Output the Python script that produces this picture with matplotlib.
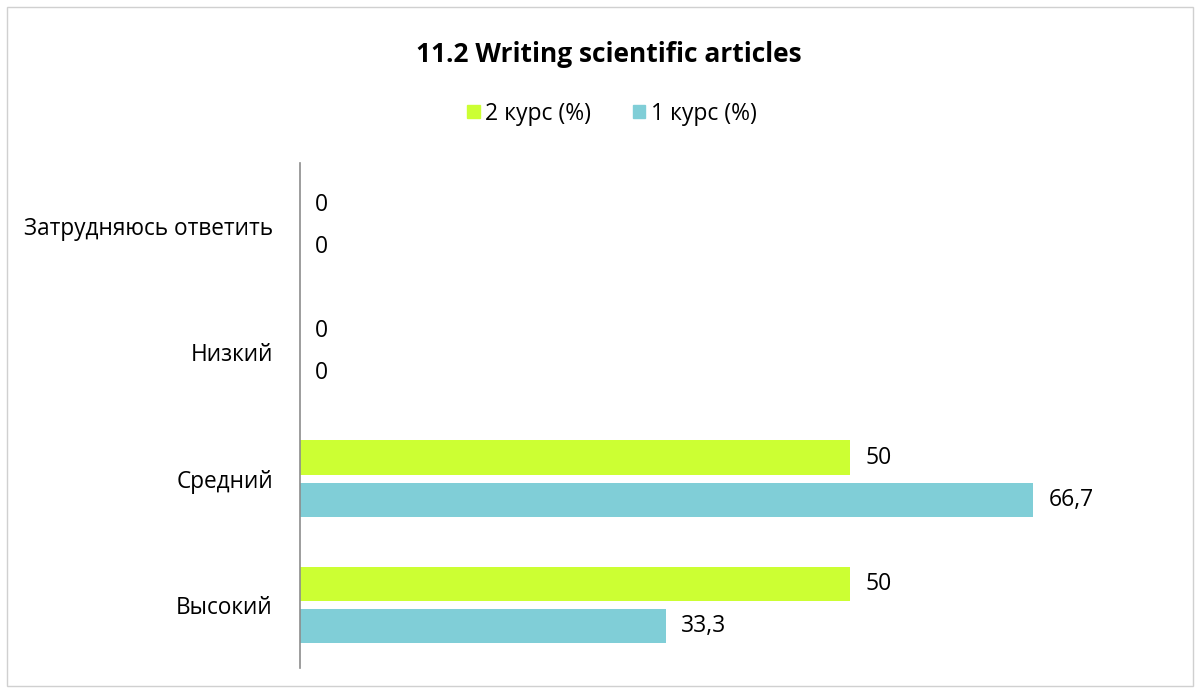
import matplotlib.pyplot as plt
from matplotlib.patches import Rectangle, Patch

plt.rcParams['font.family'] = ['Open Sans', 'DejaVu Sans']

categories = ['Высокий', 'Средний', 'Низкий', 'Затрудняюсь ответить']
course2 = [50, 50, 0, 0]
course1 = [33.3, 66.7, 0, 0]
labels2 = ['50', '50', '0', '0']
labels1 = ['33,3', '66,7', '0', '0']
series_names = ['2 курс (%)', '1 курс (%)']

green = '#CCFF33'
cyan = '#80CED7'

fig = plt.figure(figsize=(12, 6.93), dpi=100)
ax = fig.add_axes([0.25, 0.036, 0.733, 0.729])

pos = list(range(len(categories)))
h = 0.27
off = 0.167
bars2 = ax.barh([p + off for p in pos], course2, height=h, color=green)
bars1 = ax.barh([p - off for p in pos], course1, height=h, color=cyan)

for bars, labels in [(bars2, labels2), (bars1, labels1)]:
    for b, t in zip(bars, labels):
        ax.annotate(t, (b.get_width(), b.get_y() + b.get_height() / 2),
                    xytext=(11, 0), textcoords='offset points',
                    va='center', ha='left', fontsize=16.5, color='#000000')

ax.set_xlim(0, 80)
ax.set_ylim(-0.5, len(categories) - 0.5)
ax.set_yticks(pos)
ax.set_yticklabels(categories, fontsize=16.3)
ax.tick_params(axis='y', length=0, pad=19.5)
ax.set_xticks([])
for s in ['top', 'right', 'bottom']:
    ax.spines[s].set_visible(False)
ax.spines['left'].set_color('#8C8C8C')
ax.spines['left'].set_linewidth(1.2)

fig.text(0.507, 0.922, '11.2 Writing scientific articles', ha='center', va='center',
         fontsize=19, fontweight='bold')

handles = [Patch(color=green), Patch(color=cyan)]
fig.legend(handles, series_names, loc='center', bbox_to_anchor=(0.51, 0.836), ncol=2,
           frameon=False, fontsize=16.5, handlelength=0.55, handleheight=0.55,
           handletextpad=0.25, columnspacing=1.8)

fig.add_artist(Rectangle((0.006, 0.01), 0.988, 0.98, transform=fig.transFigure,
                         fill=False, edgecolor='#D0D0D0', linewidth=1))

fig.savefig('out.png', dpi=100, facecolor='white')
